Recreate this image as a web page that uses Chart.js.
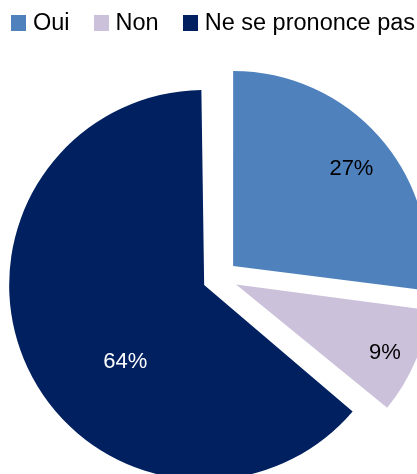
<!DOCTYPE html>
<html>
<head>
<meta charset="utf-8">
<script src="https://cdn.jsdelivr.net/npm/chart.js@4.4.0/dist/chart.umd.min.js"></script>
<style>
  html, body { margin: 0; padding: 0; background: #fff; }
  #wrap { position: relative; width: 417px; height: 474px; overflow: hidden; }
  #chart { position: absolute; left: 0; top: 0; }
  #legend { position: absolute; left: 11px; top: 9px; display: flex; font-family: "Liberation Sans", Arial, sans-serif; font-size: 23.5px; color: #000; white-space: nowrap; }
  #legend .item { display: inline-flex; align-items: center; margin-right: 24px; }
  #legend .box { width: 15px; height: 16px; margin-right: 7px; }
</style>
</head>
<body>
<div id="wrap">
  <canvas id="chart" width="417" height="474"></canvas>
  <div id="legend"></div>
</div>
<script>
// ===== Data =====
const categories = ['Oui', 'Non', 'Ne se prononce pas'];
const shares = [27, 9, 64];
const colors = ['#4F81BD', '#CCC1DA', '#002060'];
const labelColors = ['#000000', '#000000', '#ffffff'];
// label placement: fraction of radius from slice tip, and angle shift (deg) from mid angle
const labelRadius = [0.785, 0.84, 0.565];
const labelShift = [2, 1.3, -19];

// HTML legend built from the same arrays
document.getElementById('legend').innerHTML = categories.map((c, i) =>
  `<span class="item"><span class="box" style="background:${colors[i]}"></span>${c}</span>`
).join('');

// radius growth Chart.js adds to an exploded slice
function radiusGrowth(arc) {
  const o = (arc.options.offset || 0) / 4;
  return o * (1 - Math.sin(Math.min(Math.PI, arc.circumference)));
}

// undo that growth so every slice keeps the same radius
const evenRadius = {
  id: 'evenRadius',
  afterDatasetUpdate(chart, args) {
    args.meta.data.forEach(arc => { arc.outerRadius -= radiusGrowth(arc); });
  }
};

// percentage labels inside slices
const sliceLabels = {
  id: 'sliceLabels',
  afterDatasetsDraw(chart) {
    const { ctx } = chart;
    const meta = chart.getDatasetMeta(0);
    ctx.save();
    ctx.font = '22px "Liberation Sans", Arial, sans-serif';
    ctx.textAlign = 'center';
    ctx.textBaseline = 'middle';
    meta.data.forEach((arc, i) => {
      const mid = (arc.startAngle + arc.endAngle) / 2;
      const o = (arc.options.offset || 0) / 4;
      const tipX = arc.x + Math.cos(mid) * o, tipY = arc.y + Math.sin(mid) * o;
      const a = mid + labelShift[i] * Math.PI / 180;
      const d = (arc.outerRadius + radiusGrowth(arc)) * labelRadius[i];
      ctx.fillStyle = labelColors[i];
      ctx.fillText(shares[i] + '%', tipX + Math.cos(a) * d, tipY + Math.sin(a) * d);
    });
    ctx.restore();
  }
};

new Chart(document.getElementById('chart'), {
  type: 'pie',
  data: {
    labels: categories,
    datasets: [{ data: shares, backgroundColor: colors, borderWidth: 0, offset: 70, radius: 195 }]
  },
  options: {
    responsive: false,
    animation: false,
    layout: { padding: { left: 23, top: 81, right: 0, bottom: 0 } },
    plugins: { legend: { display: false }, tooltip: { enabled: false } }
  },
  plugins: [evenRadius, sliceLabels]
});
</script>
</body>
</html>
